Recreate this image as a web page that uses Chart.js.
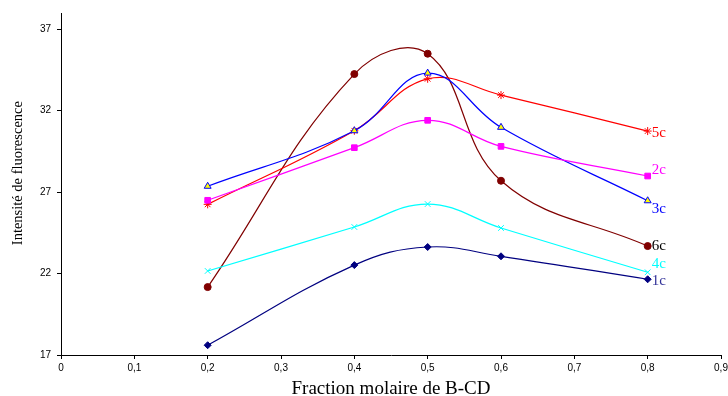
<!DOCTYPE html>
<html>
<head>
<meta charset="utf-8">
<script src="https://cdn.jsdelivr.net/npm/chart.js@4/dist/chart.umd.min.js"></script>
<style>
  html, body { margin: 0; padding: 0; background: #fff; }
  #wrap { width: 728px; height: 396px; position: relative; }
</style>
</head>
<body>
<div id="wrap"><canvas id="fluoChart"></canvas></div>
<script>
// fraction molaire (x) and intensities
const fractions = [0.2, 0.4, 0.5, 0.6, 0.8];
const xTicks = [0, 0.1, 0.2, 0.3, 0.4, 0.5, 0.6, 0.7, 0.8, 0.9];
const yTicks = [17, 22, 27, 32, 37];

const serie1c = [17.6, 22.52, 23.63, 23.06, 21.65];
const serie2c = [26.5, 29.73, 31.41, 29.81, 27.99];
const serie3c = [27.36, 30.77, 34.31, 30.98, 26.47];
const serie4c = [22.16, 24.86, 26.27, 24.8, 22.08];
const serie5c = [26.25, 30.77, 33.96, 32.96, 30.75];
const serie6c = [21.17, 34.25, 35.5, 27.7, 23.69];

function toPoints(values) {
    return fractions.map((f, i) => ({x: f, y: values[i]}));
}

function makeSet(name, values, color, pointStyle, radius, fill, labelColor, labelDy) {
    return {
        label: name,
        data: toPoints(values),
        borderColor: color,
        backgroundColor: color,
        borderWidth: 1.2,
        tension: 0.4,
        pointStyle: pointStyle,
        pointRadius: radius,
        pointBackgroundColor: fill,
        pointBorderColor: color,
        pointBorderWidth: 1,
        endLabelColor: labelColor,
        endLabelDy: labelDy
    };
}

const datasets = [
    makeSet("1c", serie1c, "#000080", "rectRot", 3.5, "#000080", "#333399", 2),
    makeSet("2c", serie2c, "#FF00FF", "rect", 4, "#FF00FF", "#FF00FF", -6),
    makeSet("3c", serie3c, "#0000FF", "triangle", 4, "#FFFF00", "#0000FF", 8),
    makeSet("4c", serie4c, "#00FFFF", "crossRot", 4, "#00FFFF", "#00FFFF", -8),
    makeSet("5c", serie5c, "#FF0000", "star", 4, "#FF0000", "#FF0000", 2),
    makeSet("6c", serie6c, "#800000", "circle", 3.5, "#800000", "#000000", 0)
];

// series names written next to the last point
const endLabels = {
    id: "endLabels",
    afterDatasetsDraw(chart) {
        const ctx = chart.ctx;
        ctx.save();
        ctx.font = "15px 'Liberation Serif', 'Times New Roman', serif";
        ctx.textAlign = "left";
        ctx.textBaseline = "middle";
        chart.data.datasets.forEach((ds, i) => {
            const meta = chart.getDatasetMeta(i);
            const pt = meta.data[meta.data.length - 1];
            ctx.fillStyle = ds.endLabelColor;
            ctx.fillText(ds.label, pt.x + 4, pt.y + ds.endLabelDy);
        });
        ctx.restore();
    }
};

const tickFont = {family: "'Liberation Sans', Arial, sans-serif", size: 10};
const titleFamily = "'Liberation Serif', 'Times New Roman', serif";

new Chart(document.getElementById("fluoChart"), {
    type: "line",
    data: {datasets: datasets},
    plugins: [endLabels],
    options: {
        responsive: true,
        maintainAspectRatio: false,
        animation: false,
        layout: {padding: {top: 13, left: 0, right: 0, bottom: 0}},
        plugins: {
            legend: {display: false},
            tooltip: {enabled: false}
        },
        scales: {
            x: {
                type: "linear",
                min: 0,
                max: 0.9,
                afterBuildTicks: s => { s.ticks = xTicks.map(v => ({value: v})); },
                afterFit: s => { s.height = 41; s.paddingRight = 7; },
                ticks: {
                    color: "#000",
                    font: tickFont,
                    padding: 3,
                    maxRotation: 0,
                    callback: v => v === 0 ? "0" : v.toFixed(1).replace(".", ",")
                },
                grid: {drawOnChartArea: false, drawTicks: true, tickLength: 4, color: "#000"},
                border: {display: true, color: "#000", width: 1},
                title: {
                    display: true,
                    text: "Fraction molaire de B-CD",
                    color: "#000",
                    font: {family: titleFamily, size: 19, lineHeight: 1},
                    padding: {top: 0, bottom: -3}
                }
            },
            y: {
                min: 17,
                max: 38,
                afterBuildTicks: s => { s.ticks = yTicks.map(v => ({value: v})); },
                afterFit: s => { s.width = 61; },
                ticks: {color: "#000", font: tickFont, padding: 6},
                grid: {drawOnChartArea: false, drawTicks: true, tickLength: 4, color: "#000"},
                border: {display: true, color: "#000", width: 1},
                title: {
                    display: true,
                    // leading spaces lift the text a little, as in the original
                    text: "\u00a0\u00a0\u00a0\u00a0\u00a0\u00a0Intensité de fluorescence",
                    color: "#000",
                    font: {family: titleFamily, size: 14.5},
                    padding: {top: 9, bottom: 0}
                }
            }
        }
    }
});
</script>
</body>
</html>
